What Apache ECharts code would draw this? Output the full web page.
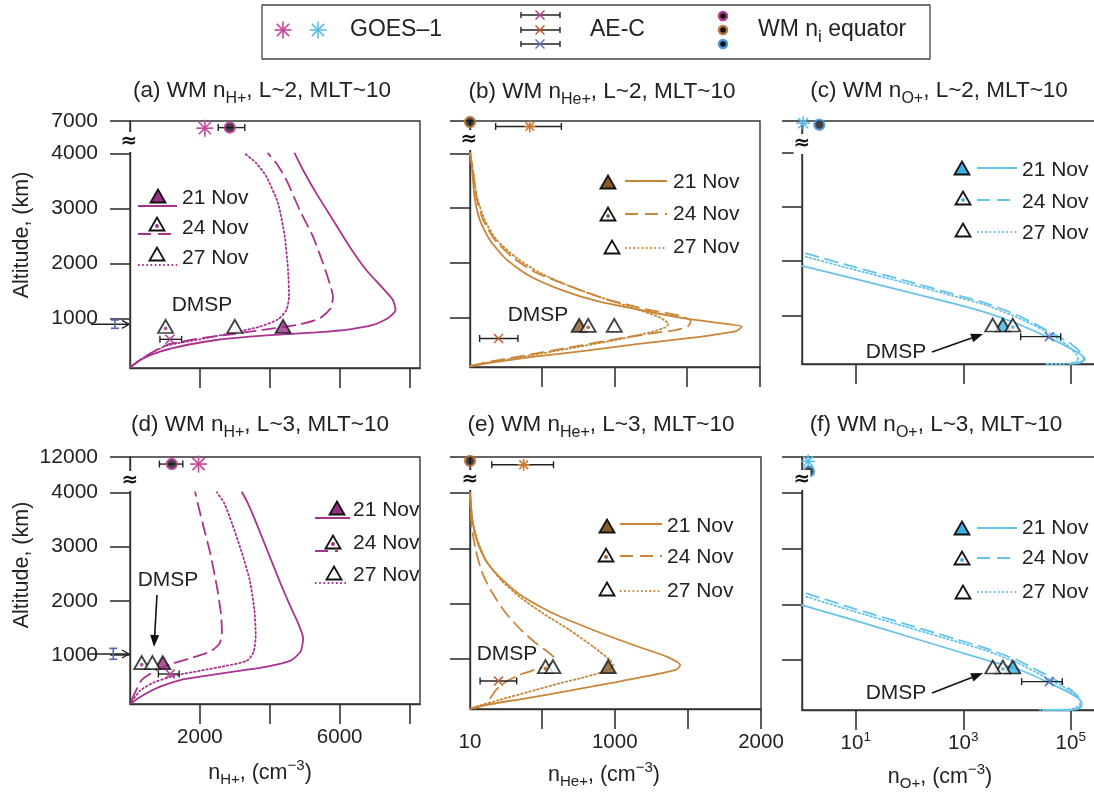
<!DOCTYPE html>
<html><head><meta charset="utf-8">
<script src="https://cdn.jsdelivr.net/npm/echarts@6/dist/echarts.min.js"></script>
<style>html,body{margin:0;padding:0;background:#fff}#c{width:1094px;height:798px}</style>
</head><body><div id="c"></div>
<script>
// ---------------- DATA (density cm^-3, altitude km) ----------------
// Panel (a) H+, L~2
const hL2_21Nov = [[0,110],[286,245],[857,397],[1619,518],[2476,609],[3429,670],[4381,712],[5333,748],[6286,803],[6952,882],[7381,1003],[7600,1154],[7524,1336],[7238,1548],[6762,1882],[6286,2306],[5810,2791],[5333,3275],[4952,3700],[4714,4000]];
const hL2_24Nov = [[0,115],[476,324],[1048,518],[2000,639],[2952,718],[3905,803],[4857,894],[5429,1003],[5743,1185],[5810,1397],[5714,1639],[5524,2003],[5238,2488],[4857,2972],[4476,3518],[4190,3821],[3952,4000]];
const hL2_27Nov = [[0,115],[476,324],[1048,506],[2000,621],[2952,742],[3714,851],[4238,985],[4476,1154],[4552,1397],[4524,1882],[4429,2488],[4238,3094],[3905,3578],[3619,3821],[3286,4000]];
const hL2_DMSP = [[4381,855],[1019,855],[3000,855]];          // 21, 24, 27 Nov
const hL2_AEC = [1143,621,857,1476];                          // value, alt, low, high
const hL2_GOES = [2143,6870];
const hL2_WM = [2857,6880,2524,3286];
const hL2_DMSPalt = [-430,894,821,973];                       // x, alt, low, high
// Panel (b) He+, L~2
const heL2_21Nov = [[11,4000],[25,3700],[41,3215],[76,2791],[144,2427],[259,2063],[420,1760],[626,1518],[878,1306],[1153,1154],[1452,1003],[1727,900],[1876,839],[1841,761],[1681,688],[1452,609],[1153,518],[809,397],[465,294],[167,185],[10,110]];
const heL2_24Nov = [[11,4000],[30,3700],[53,3215],[99,2791],[179,2427],[305,2094],[465,1821],[695,1579],[947,1336],[1222,1154],[1452,1033],[1525,942],[1509,851],[1429,779],[1268,718],[1039,621],[695,458],[351,294],[122,185],[10,120]];
const heL2_27Nov = [[11,4000],[30,3700],[57,3215],[110,2791],[190,2427],[328,2094],[488,1821],[718,1548],[947,1336],[1153,1154],[1314,1003],[1371,882],[1348,821],[1268,748],[1039,609],[695,439],[351,276],[122,173],[10,120]];
const heL2_DMSP = [[759,860],[821,860],[1000,860]];
const heL2_AEC = [206,621,76,339];
const heL2_GOES = [420,6900,186,637];
const heL2_WM = [10,6980];
// Panel (c) O+, L~2
const oL2_21Nov = [[1,1911],[8.9,1683],[76,1449],[646,1221],[2690,1049],[11500,821],[35500,605],[97700,390],[158000,266],[186000,186],[148000,125],[97700,100]];
const oL2_24Nov = [[1.17,2145],[8.9,1899],[76,1652],[646,1394],[2690,1221],[10000,1006],[30900,759],[97700,482],[158000,297],[174000,186],[138000,112]];
const oL2_27Nov = [[1.17,2083],[8.9,1849],[76,1609],[646,1357],[2690,1184],[10000,962],[30900,728],[85100,451],[129000,266],[138000,162],[72400,100],[35500,100]];
const oL2_DMSP = [[5460,820],[8350,820],[3530,820]];
const oL2_AEC = [40000,605,11700,65000];
const oL2_GOES = [1.05,6960];
const oL2_WM = [2.1,6930];
// Panel (d) H+, L~3
const hL3_21Nov = [[0,100],[383,266],[861,419],[1436,542],[2010,603],[2967,696],[3924,788],[4594,898],[4881,1064],[4957,1310],[4833,1555],[4594,1893],[4307,2323],[3924,2937],[3541,3551],[3350,3827],[3206,4000]];
const hL3_24Nov = [[48,174],[335,542],[766,726],[1244,849],[1818,960],[2297,1064],[2565,1217],[2632,1402],[2603,1770],[2488,2261],[2297,2875],[2105,3366],[1962,3735],[1866,4000]];
const hL3_27Nov = [[48,143],[287,346],[670,493],[1244,616],[2010,714],[2775,806],[3350,898],[3541,1064],[3598,1371],[3560,1831],[3426,2384],[3177,2937],[2919,3428],[2699,3796],[2488,4000]];
const hL3_DMSP = [[938,861],[335,861],[641,861]];
const hL3_AEC = [1148,653,813,1407];
const hL3_GOES = [1962,11870];
const hL3_WM = [1196,11870,842,1512];
const hL3_DMSPalt = [-479,1021,923,1125];
// Panel (e) He+, L~3
const heL3_21Nov = [[10,4000],[22,3634],[38,3333],[72,3032],[130,2731],[233,2430],[370,2129],[577,1828],[852,1527],[1127,1256],[1356,1045],[1448,895],[1425,816],[1265,714],[989,576],[691,431],[393,293],[118,172],[10,100]];
const heL3_24Nov = [[10,4000],[22,3393],[49,2972],[95,2550],[164,2189],[256,1828],[359,1527],[462,1286],[554,1105],[588,1015],[572,925],[485,834],[347,714],[256,594],[187,443],[141,263],[107,172],[26,112]];
const heL3_27Nov = [[10,4000],[26,3513],[61,3152],[118,2791],[221,2430],[347,2129],[508,1828],[691,1527],[852,1226],[967,985],[989,895],[944,792],[806,684],[623,564],[416,413],[210,263],[49,142],[10,100]];
const heL3_DMSP = [[955,865],[526,865],[577,865]];
const heL3_AEC = [205,606,79,329];
const heL3_GOES = [377,11860,159,581];
const heL3_WM = [10,11930];
// Panel (f) O+, L~3
const oL3_21Nov = [[1,1988],[8.9,1719],[76,1449],[646,1179],[2690,999],[11500,819],[35500,610],[97700,400],[158000,250],[158000,160],[97700,100],[30900,100]];
const oL3_24Nov = [[1.2,2198],[8.9,1929],[76,1659],[646,1389],[2690,1209],[10000,999],[30900,759],[85100,520],[148000,310],[158000,190],[129000,112]];
const oL3_27Nov = [[1.2,2138],[8.9,1880],[76,1611],[646,1347],[2690,1167],[10000,951],[30900,711],[91200,460],[148000,280],[148000,190],[97700,112],[26900,100]];
const oL3_DMSP = [[8350,873],[5460,873],[3550,873]];
const oL3_AEC = [40000,610,12200,69700];
const oL3_GOES = [1.3,11920];
const oL3_WM = [1.35,11740];
// Axis ticks / labels
const altTicks = [1000,2000,3000,4000];
const rowTopAlt = [7000,12000];
const hTicks = [2000,4000,6000,8000], hLabels = [2000,6000];
const heTicks = [500,1000,1500,2000], heLabels = [10,1000,2000];
const oTicks = [10,1000,100000], oLabels = [10,1000,100000];
const dates = ['21 Nov','24 Nov','27 Nov'];

// ---------------- STYLE ----------------
const FONT = 'Liberation Sans, Arial, sans-serif';
const TXT = '#222';
const PAL = {
  mag:{line:'#a8338f', fill:'#9a2d84', x:'#b03a90', star:'#c6469c', ring:'#b43c94'},
  brn:{line:'#c98638', fill:'#8a5a2c', x:'#c25a2c', star:'#d27a30', ring:'#b8773a'},
  blu:{line:'#66c3ea', fill:'#3eb0e2', x:'#5d6fb8', star:'#5cbde9', ring:'#4d98d6'}
};
const ROWS = [{topDisp:4590},{topDisp:4650}];
function disp(row, alt){ return alt <= 4000 ? alt : alt - (rowTopAlt[row] - ROWS[row].topDisp); }
const AX = {
  H:{type:'value', min:0, max:8300, ticks:hTicks, labels:hLabels},
  He:{type:'value', min:10, max:2000, ticks:heTicks, labels:heLabels},
  O:{type:'log', min:1, max:350000, ticks:oTicks, labels:oLabels}
};
const panels = [
  {row:0, grid:{left:130,top:121,width:290,height:247}, ax:'H', pal:'mag', lines:[hL2_21Nov,hL2_24Nov,hL2_27Nov], dmsp:hL2_DMSP, aec:hL2_AEC, goes:hL2_GOES, wm:hL2_WM, dAlt:hL2_DMSPalt, yLab:true},
  {row:0, grid:{left:470,top:121,width:290,height:246}, ax:'He', pal:'brn', lines:[heL2_21Nov,heL2_24Nov,heL2_27Nov], dmsp:heL2_DMSP, aec:heL2_AEC, goes:heL2_GOES, wm:heL2_WM, starR:6},
  {row:0, grid:{left:802,top:121,width:298,height:243}, ax:'O', pal:'blu', lines:[oL2_21Nov,oL2_24Nov,oL2_27Nov], dmsp:oL2_DMSP, aec:oL2_AEC, goes:oL2_GOES, wm:oL2_WM, starR:7},
  {row:1, grid:{left:130,top:457,width:290,height:247}, ax:'H', pal:'mag', lines:[hL3_21Nov,hL3_24Nov,hL3_27Nov], dmsp:hL3_DMSP, aec:hL3_AEC, goes:hL3_GOES, wm:hL3_WM, dAlt:hL3_DMSPalt, yLab:true, xLab:true},
  {row:1, grid:{left:470,top:457,width:291,height:252}, ax:'He', pal:'brn', lines:[heL3_21Nov,heL3_24Nov,heL3_27Nov], dmsp:heL3_DMSP, aec:heL3_AEC, goes:heL3_GOES, wm:heL3_WM, xLab:true, starR:6},
  {row:1, grid:{left:802,top:457,width:298,height:253}, ax:'O', pal:'blu', lines:[oL3_21Nov,oL3_24Nov,oL3_27Nov], dmsp:oL3_DMSP, aec:oL3_AEC, goes:oL3_GOES, wm:oL3_WM, xLab:true, starR:7}
];
const DASH = [13,7], DOT = [1.6,2.6];
const LTYPE = ['solid',DASH,DOT];

function errChildren(api, lo, hi, y){
  const a = api.coord([lo,y]), b = api.coord([hi,y]);
  const st = {stroke:'#222', lineWidth:1.4};
  return [
    {type:'line', shape:{x1:a[0],y1:a[1],x2:b[0],y2:b[1]}, style:st},
    {type:'line', shape:{x1:a[0],y1:a[1]-3.5,x2:a[0],y2:a[1]+3.5}, style:st},
    {type:'line', shape:{x1:b[0],y1:b[1]-3.5,x2:b[0],y2:b[1]+3.5}, style:st}
  ];
}
function xMark(cx, cy, s, color, w){
  return [
    {type:'line', shape:{x1:cx-s,y1:cy-s,x2:cx+s,y2:cy+s}, style:{stroke:color,lineWidth:w||1.5}},
    {type:'line', shape:{x1:cx-s,y1:cy+s,x2:cx+s,y2:cy-s}, style:{stroke:color,lineWidth:w||1.5}}
  ];
}
function starMark(cx, cy, r, color){
  const d = r*0.72;
  const st = {stroke:color, lineWidth:1.6};
  return [
    {type:'line', shape:{x1:cx-r,y1:cy,x2:cx+r,y2:cy}, style:st},
    {type:'line', shape:{x1:cx,y1:cy-r,x2:cx,y2:cy+r}, style:st},
    {type:'line', shape:{x1:cx-d,y1:cy-d,x2:cx+d,y2:cy+d}, style:st},
    {type:'line', shape:{x1:cx-d,y1:cy+d,x2:cx+d,y2:cy-d}, style:st}
  ];
}

const grids = [], xAxes = [], yAxes = [], series = [];
panels.forEach((p, i) => {
  const pal = PAL[p.pal], ax = AX[p.ax];
  const topDisp = ROWS[p.row].topDisp;
  grids.push(Object.assign({show:true, borderColor:'#333', borderWidth:1.4, backgroundColor:'transparent', containLabel:false, outerBoundsMode:'none'}, p.grid));
  xAxes.push({
    gridIndex:i, type:ax.type, min:ax.min, max:ax.max, logBase:10,
    axisLine:{show:true, lineStyle:{color:'#333', width:1.4}},
    axisTick:{show:true, length:20, inside:false, lineStyle:{color:'#333', width:1.6}, customValues:ax.ticks},
    axisLabel:{show:!!p.xLab, customValues:ax.labels, margin:p.ax==='O'?20:23, showMinLabel:true, showMaxLabel:true,
      color:TXT, fontFamily:FONT, fontSize:20.5,
      formatter: p.ax==='O' ? (v => '{b|10}{s|' + Math.round(Math.log10(v)) + '}') : (v => String(Math.round(v))),
      rich:{b:{fontSize:20.5, fontFamily:FONT, color:TXT, lineHeight:26}, s:{fontSize:13.5, fontFamily:FONT, color:TXT, lineHeight:14, verticalAlign:'top'}}},
    splitLine:{show:false}
  });
  yAxes.push({
    gridIndex:i, type:'value', min:100, max:topDisp,
    axisLine:{show:true, lineStyle:{color:'#333', width:1.4}},
    axisTick:{show:true, length:20, inside:false, lineStyle:{color:'#333', width:1.6}, customValues:altTicks.concat([topDisp])},
    axisLabel:{show:!!p.yLab, customValues:altTicks.concat([topDisp]), margin:32, color:TXT, fontFamily:FONT, fontSize:21,
      showMinLabel:true, showMaxLabel:true,
      formatter: v => (Math.abs(v - topDisp) < 1 ? String(rowTopAlt[p.row]) : String(v))},
    splitLine:{show:false}
  });
  // profile lines
  p.lines.forEach((arr, k) => {
    series.push({type:'line', xAxisIndex:i, yAxisIndex:i, name:dates[k], symbol:'none', smooth:0.2,
      data: arr.map(d => [d[0], disp(p.row, d[1])]),
      lineStyle:{color:pal.line, width:1.8, type:LTYPE[k], cap:'round'}, z:2, silent:true});
  });
  // DMSP triangles (21 filled, 24 white with dot, 27 open)
  series.push({type:'scatter', xAxisIndex:i, yAxisIndex:i, symbol:'triangle', symbolSize:[15,13], clip:false, z:5,
    data: p.dmsp.map((d,k) => ({value:[d[0], disp(p.row,d[1])], itemStyle:{color: k===0 ? pal.fill : '#fff'}})),
    itemStyle:{borderColor:'#111', borderWidth:1.8}});
  series.push({type:'scatter', xAxisIndex:i, yAxisIndex:i, symbol:'circle', symbolSize:3.8, clip:false, z:6,
    data:[[p.dmsp[1][0], disp(p.row,p.dmsp[1][1])]], itemStyle:{color:pal.fill}, symbolOffset:[0,2]});
  // AE-C measurement with error bar
  series.push({type:'custom', xAxisIndex:i, yAxisIndex:i, clip:false, z:6, encode:{x:0,y:1},
    data:[[p.aec[0], disp(p.row,p.aec[1]), p.aec[2], p.aec[3]]],
    renderItem:(params, api) => {
      const y = api.value(1), c = api.coord([api.value(0), y]);
      return {type:'group', children: errChildren(api, api.value(2), api.value(3), y).concat(xMark(c[0], c[1], 4.5, pal.x, 1.5))};
    }});
  // GOES-1 asterisk (optionally with error bar)
  const g = p.goes;
  series.push({type:'custom', xAxisIndex:i, yAxisIndex:i, clip:false, z:7, encode:{x:0,y:1},
    data:[g.length > 2 ? [g[0], disp(p.row,g[1]), g[2], g[3]] : [g[0], disp(p.row,g[1])]],
    renderItem:(params, api) => {
      const y = api.value(1), c = api.coord([api.value(0), y]);
      let ch = [];
      if (g.length > 2) ch = errChildren(api, api.value(2), api.value(3), y);
      return {type:'group', children: ch.concat(starMark(c[0], c[1], p.starR || 8.5, pal.star))};
    }});
  // WM equator dot (optionally with error bar)
  const w = p.wm;
  if (w.length > 2) {
    series.push({type:'custom', xAxisIndex:i, yAxisIndex:i, clip:false, z:6, encode:{x:0,y:1},
      data:[[w[0], disp(p.row,w[1]), w[2], w[3]]],
      renderItem:(params, api) => ({type:'group', children: errChildren(api, api.value(2), api.value(3), api.value(1))})});
  }
  series.push({type:'scatter', xAxisIndex:i, yAxisIndex:i, symbol:'circle', symbolSize:10, clip:false, z:8,
    data:[[w[0], disp(p.row,w[1])]], itemStyle:{color:'#111', borderColor:pal.ring, borderWidth:2.5}});
  // DMSP altitude marker beside the altitude axis
  if (p.dAlt) {
    const da = p.dAlt;
    series.push({type:'custom', xAxisIndex:i, yAxisIndex:i, clip:false, z:6, encode:{x:0,y:1},
      data:[[da[0], da[1], da[2], da[3]]],
      renderItem:(params, api) => {
        const c = api.coord([api.value(0), api.value(1)]);
        const lo = api.coord([api.value(0), api.value(2)]), hi = api.coord([api.value(0), api.value(3)]);
        const x0 = api.coord([0, api.value(1)])[0];
        const bl = {stroke:'#5563b0', lineWidth:1.6}, bk = {stroke:'#222', lineWidth:1.4};
        return {type:'group', children:[
          {type:'line', shape:{x1:c[0]-24,y1:c[1],x2:x0-1,y2:c[1]}, style:bk},
          {type:'polyline', shape:{points:[[x0-8,c[1]-4],[x0-1,c[1]],[x0-8,c[1]+4]]}, style:{stroke:'#222', lineWidth:1.4, fill:null}},
          {type:'line', shape:{x1:c[0],y1:lo[1],x2:c[0],y2:hi[1]}, style:bl},
          {type:'line', shape:{x1:c[0]-4,y1:lo[1],x2:c[0]+4,y2:lo[1]}, style:bl},
          {type:'line', shape:{x1:c[0]-4,y1:hi[1],x2:c[0]+4,y2:hi[1]}, style:bl}
        ]};
      }});
  }
});

// ---------------- GRAPHIC (titles, legends, annotations) ----------------
const G = [];
function rtext(x, y, text, size, align, rot, subSize){
  const ss = subSize || Math.round(size*0.72);
  const o = {type:'text', x:x, y:y, z:120, rotation: rot || 0, style:{
    text:text, align:align || 'center', verticalAlign:'middle', fill:TXT, fontFamily:FONT, fontSize:size,
    rich:{
      m:{fontSize:size, fontFamily:FONT, fill:TXT, lineHeight:size+8},
      s:{fontSize:ss, fontFamily:FONT, fill:TXT, lineHeight:ss, verticalAlign:'bottom'},
      u:{fontSize:Math.round(size*0.68), fontFamily:FONT, fill:TXT, lineHeight:Math.round(size*0.68), verticalAlign:'top'}
    }}};
  G.push(o);
}
const titles = [
  [262,91,'(a)','H+','2'],[602,92,'(b)','He+','2'],[939,91,'(c)','O+','2'],
  [260,425,'(d)','H+','3'],[601,425,'(e)','He+','3'],[936,425,'(f)','O+','3']
];
titles.forEach(t => rtext(t[0], t[1], '{m|' + t[2] + ' WM n}{s|' + t[3] + '}{m|, L~' + t[4] + ', MLT~10}', 22.5, 'center', 0, 16));
rtext(260, 773, '{m|n}{s|H+}{m|, (cm}{u|−3}{m|)}', 21.5);
rtext(604, 775, '{m|n}{s|He+}{m|, (cm}{u|−3}{m|)}', 21.5);
rtext(940, 777, '{m|n}{s|O+}{m|, (cm}{u|−3}{m|)}', 21.5);
rtext(22, 235, '{m|Altitude, (km)}', 21.5, 'center', Math.PI/2);
rtext(22, 565, '{m|Altitude, (km)}', 21.5, 'center', Math.PI/2);

// axis break symbols
[[129,142],[469,140],[802,144],[130,481],[470,480],[802,480]].forEach(b => {
  G.push({type:'text', x:b[0], y:b[1], z:130, style:{text:'≈', fontSize:20, fontWeight:'bold', fontFamily:'DejaVu Sans', fill:'#111',
    align:'center', verticalAlign:'middle', backgroundColor:'#fff', padding:[0,0,0,0]}});
});

// in-panel legends
function tri(cx, cy, fill, dotColor){
  G.push({type:'polygon', z:120, shape:{points:[[cx-7.5,cy+6.5],[cx+7.5,cy+6.5],[cx,cy-6.5]]}, style:{fill:fill, stroke:'#111', lineWidth:1.8}});
  if (dotColor) G.push({type:'circle', z:121, shape:{cx:cx, cy:cy+2, r:1.9}, style:{fill:dotColor}});
}
function lline(x1, x2, y, color, k){
  const dash = k===0 ? null : (k===1 ? DASH : DOT);
  G.push({type:'line', z:120, shape:{x1:x1,y1:y,x2:x2,y2:y}, style:{stroke:color, lineWidth:1.8, lineDash:dash}});
}
const legendSpecs = [
  {pal:'mag', rows:[[158,196,138,177,206,182,198],[157,224,138,177,234,182,228],[157,254,138,177,265,182,258]]},
  {pal:'brn', rows:[[608,182,625,667,181,673,182],[608,214,625,667,214,673,214],[612,247,625,667,248,673,247]]},
  {pal:'blu', rows:[[962,168,977,1017,168,1022,170],[963,198,977,1017,200,1022,202],[963,230,977,1017,232,1022,233]]},
  {pal:'mag', rows:[[337,508,315,350,518,353,510],[333,542,315,338,551,353,543],[334,573,315,347,583,353,575]]},
  {pal:'brn', rows:[[607,526,620,662,524,667,526],[606,555,620,662,556,667,557],[607,589,620,662,591,667,591]]},
  {pal:'blu', rows:[[962,528,977,1017,528,1022,528],[962,558,977,1017,558,1022,558],[963,592,977,1017,592,1022,592]]}
];
legendSpecs.forEach(ls => {
  const pal = PAL[ls.pal];
  ls.rows.forEach((r, k) => {
    tri(r[0], r[1], k===0 ? pal.fill : '#fff', k===1 ? pal.fill : null);
    lline(r[2], r[3], r[4], pal.line, k);
    G.push({type:'text', z:120, x:r[5], y:r[6], style:{text:dates[k], fontSize:21, fontFamily:FONT, fill:TXT, align:'left', verticalAlign:'middle'}});
  });
});

// DMSP annotations
[[202,305],[538,315],[896,352],[168,580],[507,654],[896,693]].forEach(d => {
  G.push({type:'text', z:120, x:d[0], y:d[1], style:{text:'DMSP', fontSize:21, fontFamily:FONT, fill:TXT, align:'center', verticalAlign:'middle'}});
});
function arrow(x1, y1, x2, y2){
  const a = Math.atan2(y2-y1, x2-x1), L = 12, W = 4.5;
  const bx = x2 - L*Math.cos(a), by = y2 - L*Math.sin(a);
  G.push({type:'line', z:120, shape:{x1:x1,y1:y1,x2:bx,y2:by}, style:{stroke:'#111', lineWidth:1.6}});
  G.push({type:'polygon', z:120, shape:{points:[[x2,y2],[bx - W*Math.sin(a), by + W*Math.cos(a)],[bx + W*Math.sin(a), by - W*Math.cos(a)]]}, style:{fill:'#111'}});
}
arrow(932,352,983,334);
arrow(932,693,983,673);
arrow(157,595,154,647);

// top legend
G.push({type:'rect', z:110, shape:{x:262,y:5,width:668,height:54}, style:{fill:'#fff', stroke:'#444', lineWidth:1.3}});
function gStar(cx, cy, r, color){ starMark(cx, cy, r, color).forEach(e => { e.z = 120; G.push(e); }); }
gStar(283,30,8.5,PAL.mag.star);
gStar(318,30,8.5,PAL.blu.star);
G.push({type:'text', z:120, x:350, y:30, style:{text:'GOES–1', fontSize:23, fontFamily:FONT, fill:TXT, align:'left', verticalAlign:'middle'}});
[[15,PAL.mag.x],[30,PAL.brn.x],[44,PAL.blu.x]].forEach(r => {
  const st = {stroke:'#222', lineWidth:1.4};
  G.push({type:'line', z:120, shape:{x1:521,y1:r[0],x2:560,y2:r[0]}, style:st});
  G.push({type:'line', z:120, shape:{x1:521,y1:r[0]-3,x2:521,y2:r[0]+3}, style:st});
  G.push({type:'line', z:120, shape:{x1:560,y1:r[0]-3,x2:560,y2:r[0]+3}, style:st});
  xMark(540, r[0], 4.5, r[1], 1.5).forEach(e => { e.z = 121; G.push(e); });
});
G.push({type:'text', z:120, x:590, y:30, style:{text:'AE-C', fontSize:23, fontFamily:FONT, fill:TXT, align:'left', verticalAlign:'middle'}});
[[16,PAL.mag.ring],[30,PAL.brn.ring],[44,PAL.blu.ring]].forEach(r => {
  G.push({type:'circle', z:120, shape:{cx:723, cy:r[0], r:4}, style:{fill:'#111', stroke:r[1], lineWidth:2.5}});
});
rtext(758, 30, '{m|WM n}{s|i}{m| equator}', 23, 'left');

const option = {
  animation:false,
  backgroundColor:'#fff',
  grid:grids, xAxis:xAxes, yAxis:yAxes, series:series,
  graphic:G
};
const chart = echarts.init(document.getElementById('c'), null, {renderer:'canvas'});
chart.setOption(option);
</script></body></html>
